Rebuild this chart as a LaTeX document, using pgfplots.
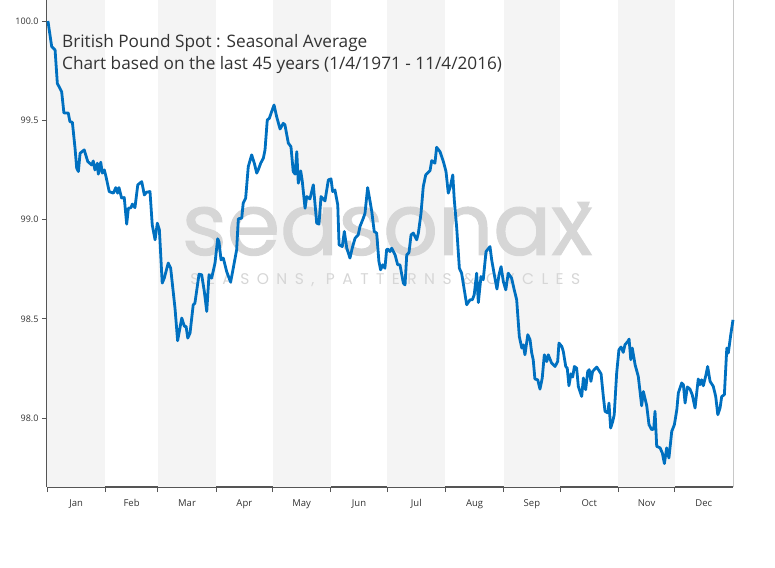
\documentclass[border=0pt]{standalone}
\usepackage{fontspec}
\setmainfont{Open Sans}
\newfontfamily\wmfont{Poppins}
\newfontfamily\wmbold[FakeBold=1.2]{Poppins}
\usepackage{pgfplots}
\pgfplotsset{compat=1.18}
\definecolor{gbp}{RGB}{0,112,192}
\definecolor{band}{RGB}{244,244,244}
\definecolor{axdark}{RGB}{85,85,85}
\definecolor{axlight}{RGB}{200,200,200}
\definecolor{txt}{RGB}{51,51,51}
\definecolor{wm}{RGB}{214,214,214}
\pgfplotstableread{
d v
0.5 100.000
2.5 99.871
4.3 99.854
5.5 99.686
7.8 99.644
9.0 99.537
11.3 99.537
12.2 99.493
13.5 99.490
14.9 99.361
15.8 99.259
16.7 99.242
17.6 99.334
19.8 99.351
21.7 99.292
23.8 99.275
24.6 99.295
25.5 99.250
26.8 99.284
27.3 99.229
28.6 99.289
29.4 99.234
30.5 99.250
31.4 99.216
33.1 99.141
35.3 99.133
36.6 99.161
37.6 99.133
38.3 99.161
39.7 99.108
41.1 99.111
42.4 98.977
43.3 99.057
44.7 99.060
45.4 99.078
46.8 99.060
48.3 99.175
50.4 99.191
51.8 99.124
53.0 99.138
54.8 99.141
56.0 98.973
57.5 98.898
58.7 98.982
59.8 98.948
61.3 98.680
62.4 98.705
64.5 98.781
65.8 98.755
68.1 98.554
69.5 98.390
71.7 98.504
73.1 98.462
74.0 98.462
74.9 98.403
76.1 98.428
77.8 98.571
78.7 98.579
80.9 98.725
82.3 98.722
83.7 98.638
85.0 98.537
86.2 98.722
87.6 98.705
89.4 98.781
90.8 98.903
91.5 98.889
92.6 98.797
93.8 98.806
95.6 98.738
97.7 98.685
99.1 98.755
100.9 98.848
101.8 99.004
103.6 99.007
104.4 99.083
105.7 99.108
107.1 99.267
108.9 99.326
110.3 99.284
111.6 99.234
112.4 99.250
113.7 99.284
115.1 99.309
116.0 99.351
117.2 99.502
118.3 99.510
119.2 99.535
120.8 99.577
122.2 99.518
124.0 99.456
125.7 99.485
126.6 99.477
128.4 99.385
129.8 99.367
131.0 99.242
132.0 99.229
132.9 99.342
133.7 99.183
135.0 99.245
135.8 99.195
137.3 99.057
138.2 99.116
139.9 99.104
141.7 99.175
143.5 98.982
144.7 98.977
145.8 99.116
147.9 99.094
149.7 99.200
151.1 99.205
152.0 99.141
153.2 99.149
154.7 99.074
155.4 98.873
157.1 98.864
158.2 98.940
159.5 98.856
161.2 98.806
162.4 98.856
163.9 98.906
165.6 98.923
166.5 98.965
168.3 99.007
169.2 99.032
170.6 99.161
171.9 99.091
172.8 99.040
174.1 98.940
175.4 98.932
176.6 98.789
177.5 98.747
178.6 98.772
179.8 98.755
180.7 98.848
181.3 98.851
182.5 98.839
183.4 98.856
185.2 98.822
186.6 98.772
187.8 98.772
189.6 98.680
190.5 98.671
191.4 98.822
192.6 98.834
193.7 98.923
194.9 98.932
196.7 98.898
197.6 98.932
199.0 99.032
200.2 99.166
201.5 99.225
203.8 99.247
204.7 99.297
206.4 99.284
207.3 99.364
209.1 99.342
210.9 99.292
212.3 99.242
213.5 99.133
214.6 99.166
215.9 99.225
216.7 99.099
218.0 98.957
219.4 98.755
220.6 98.730
223.3 98.571
225.1 98.596
226.3 98.596
227.3 98.621
228.6 98.730
229.5 98.582
230.9 98.713
232.1 98.697
233.6 98.839
235.7 98.864
236.6 98.797
238.0 98.722
239.4 98.650
240.5 98.722
241.6 98.763
242.8 98.688
244.1 98.646
245.4 98.730
247.2 98.705
248.6 98.646
249.9 98.596
251.3 98.411
252.6 98.353
253.4 98.369
254.3 98.319
255.8 98.420
257.0 98.395
257.9 98.328
258.7 98.294
259.6 98.197
261.1 98.193
262.3 98.146
263.5 98.202
264.6 98.319
265.9 98.285
266.7 98.319
268.5 98.277
270.3 98.260
271.7 98.285
272.4 98.378
273.9 98.361
274.7 98.336
276.0 98.260
276.8 98.252
277.7 98.163
278.8 98.223
279.7 98.207
280.6 98.260
281.8 98.252
282.7 98.160
284.5 98.109
285.4 98.202
286.6 98.143
287.7 98.235
288.5 98.244
289.4 98.185
290.3 98.235
292.5 98.257
294.8 98.223
296.0 98.109
296.9 98.034
298.4 98.026
299.0 98.076
299.9 97.950
301.0 97.983
301.8 98.017
303.1 98.227
304.3 98.344
305.4 98.358
306.6 98.331
307.5 98.369
309.0 98.386
309.7 98.398
310.6 98.294
311.4 98.353
312.9 98.269
314.6 98.210
316.4 98.062
317.3 98.134
319.1 98.062
320.3 97.967
321.7 97.942
322.8 97.945
323.5 98.034
324.4 97.858
326.2 97.850
327.4 97.824
328.5 97.771
329.7 97.850
330.9 97.799
332.4 97.933
333.8 97.967
335.1 98.042
335.9 98.126
337.7 98.177
338.6 98.168
339.5 98.076
340.7 98.157
342.1 98.146
343.3 98.118
344.8 98.051
346.5 98.197
347.4 98.168
348.3 98.193
349.2 98.163
350.5 98.213
351.5 98.260
352.8 98.185
354.5 98.160
355.8 98.109
356.9 98.017
358.1 98.051
359.0 98.109
360.4 98.118
361.7 98.353
362.5 98.328
363.8 98.420
365.0 98.495
}\gbpdata
\begin{document}
\begin{tikzpicture}[x=1pt,y=1pt]
\useasboundingbox (0,0) rectangle (775,567);
\begin{axis}[
  at={(47pt,80pt)}, anchor=south west,
  scale only axis, width=686pt, height=487pt,
  xmin=0, xmax=365, ymin=97.653, ymax=100.106,
  axis x line*=bottom, axis y line*=left,
  axis line style={axdark, line width=1.3pt},
  tick align=outside,
  major tick length=5pt,
  tick style={axdark, line width=0.9pt},
  ytick={98,98.5,99,99.5,100},
  yticklabel style={/pgf/number format/.cd, fixed, fixed zerofill, precision=1, /tikz/.cd, font=\fontsize{9}{10}\selectfont, text=txt},
  /pgf/number format/assume math mode=true,
  xtick={0,31,59,90,120,151,181,212,243,273,304,334},
  xticklabels={},
  extra x ticks={15.5,45,74.5,105,135.5,166,196.5,227.5,258,288.5,319,349.5},
  extra x tick labels={Jan,Feb,Mar,Apr,May,Jun,Jul,Aug,Sep,Oct,Nov,Dec},
  extra x tick style={major tick length=0pt, tick label style={font=\fontsize{9.5}{10}\selectfont, text=txt, yshift=-9pt}},
  clip=false,
]
\foreach \a/\b in {0/31,59/90,120/151,181/212,243/273,304/334}{
  \edef\tmp{\noexpand\fill[band] (axis cs:\a,97.653) rectangle (axis cs:\b,100.106);}
  \tmp
}
\draw[axlight, line width=1pt] (axis cs:0,100.106) -- (axis cs:365,100.106) -- (axis cs:365,97.653);
\node[anchor=base, text=wm, font=\wmbold\fontsize{86}{86}\selectfont, inner sep=0] at (axis cs:181,98.822) {seasonax};
\node[anchor=base, text=wm, font=\wmfont\fontsize{15.5}{16}\selectfont, inner sep=0] at (axis cs:180,98.675) {\addfontfeature{LetterSpace=48}SEASONS, PATTERNS \& CYCLES};
\fill[wm] (axis cs:281.8,99.091) -- (axis cs:288.9,99.091) -- (axis cs:286.3,99.024) -- cycle;
\addplot[gbp, line width=2.8pt, line join=round, mark=none] table[x=d, y=v] {\gbpdata};
\end{axis}
\node[anchor=north west, align=left, text=txt, font=\fontsize{17.2}{22.5}\selectfont, inner sep=0] at (62,533) {British Pound Spot : Seasonal Average\\Chart based on the last 45 years (1/4/1971 - 11/4/2016)};
\end{tikzpicture}
\end{document}
